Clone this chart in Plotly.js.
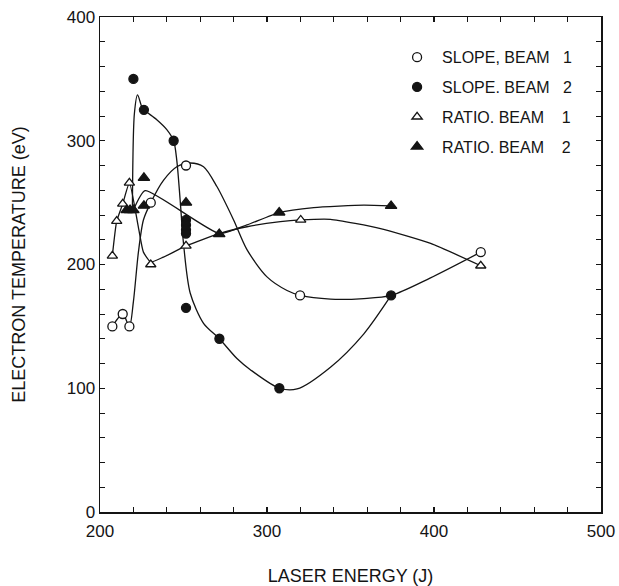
<!DOCTYPE html>
<html>
<head>
<meta charset="utf-8">
<script src="https://cdn.plot.ly/plotly-3.0.1.min.js"></script>
<style>
  html, body { margin: 0; padding: 0; background: #fff; }
  #chart { width: 619px; height: 586px; }
</style>
</head>
<body>
<div id="chart"></div>
<script>
// Measured points (laser energy J, electron temperature eV)
const slope1X = [207.4, 213.6, 217.6, 230.4, 251.5, 319.8, 428];
const slope1Y = [150, 160, 150, 250, 280, 175, 210];
const slope2X = [220, 226.3, 244.1, 251.5, 251.5, 251.5, 251.5, 251.5, 271.5, 307.4, 374.3];
const slope2Y = [350, 325, 300, 236, 232, 228, 225, 165, 140, 100, 175];
const ratio1X = [207.4, 210, 213.6, 217.6, 230.4, 251.5, 320.2, 428];
const ratio1Y = [207, 235, 249, 266, 200, 215, 236, 199];
const ratio2X = [216, 218, 220, 226.3, 226.3, 251.5, 271.4, 307.3, 374.3];
const ratio2Y = [244, 244, 244, 270, 247.5, 250, 224.6, 242, 247.3];

// Hand-drawn guide curves
const slope1CurveX = [207.4, 213.6, 217.6, 220, 223, 226, 230.4, 238, 246, 254, 262, 270, 280, 288, 300, 312, 320, 338, 358, 374.3, 397.6, 428];
const slope1CurveY = [150, 160, 150, 170, 210, 236, 250, 268, 279, 282, 279, 263, 236, 212, 190, 179, 175, 172, 172.5, 175, 189, 210];
const slope2CurveX = [219.4, 220.6, 222.5, 225, 226.3, 234, 240, 244.1, 246, 248, 250, 254, 262, 271.5, 282, 290, 307.4, 318, 338, 358, 374.3];
const slope2CurveY = [244, 322, 337, 327.5, 325, 317, 309, 300, 284, 252, 217, 177, 152.5, 140, 124, 115, 100, 99.4, 117, 144, 175];
const ratio1CurveX = [207.4, 210, 213.6, 217.6, 223, 226, 230.4, 238, 251.5, 271.4, 288, 308, 320.2, 338, 368, 398, 428];
const ratio1CurveY = [207, 235, 249, 266, 230, 210, 202, 206, 215, 225, 230.5, 234.6, 236, 236.5, 229, 217, 199];
const ratio2CurveX = [220, 227, 271.4, 288, 307.3, 328, 358, 374.3];
const ratio2CurveY = [244, 259.6, 225, 232, 242, 246, 248, 247.3];

const ink = '#141414';
const names = [
  'SLOPE, BEAM\u00a0\u00a0\u00a01',
  'SLOPE. BEAM\u00a0\u00a0\u00a02',
  'RATIO. BEAM\u00a0\u00a0\u00a0\u00a01',
  'RATIO. BEAM\u00a0\u00a0\u00a0\u00a02'
];

function curve(x, y, smooth) {
  return {x: x, y: y, type: 'scatter', mode: 'lines', showlegend: false, hoverinfo: 'skip',
    line: {color: ink, width: 1.3, shape: 'spline', smoothing: smooth}};
}
function pts(x, y, name, symbol, group, size, fill) {
  return {x: x, y: y, type: 'scatter', mode: 'markers', name: name, legendgroup: group,
    marker: {symbol: symbol, size: size, color: fill, line: {color: ink, width: 1.3}}};
}

const data = [
  curve(slope1CurveX, slope1CurveY, 0.8),
  curve(slope2CurveX, slope2CurveY, 0.8),
  curve(ratio1CurveX, ratio1CurveY, 0.5),
  curve(ratio2CurveX, ratio2CurveY, 0.5),
  pts(slope1X, slope1Y, names[0], 'circle', 'a', 9, '#ffffff'),
  pts(slope2X, slope2Y, names[1], 'circle', 'b', 9, ink),
  pts(ratio1X, ratio1Y, names[2], 'triangle-up', 'c', 9, '#ffffff'),
  pts(ratio2X, ratio2Y, names[3], 'triangle-up', 'd', 10, ink)
];

const axisCommon = {
  showgrid: false, zeroline: false, showline: true, linecolor: ink, linewidth: 1.5,
  mirror: 'ticks', ticks: 'inside', ticklen: 5, tickwidth: 1.2, tickcolor: ink,
  tickfont: {family: 'Liberation Sans, Arial, sans-serif', size: 17, color: ink},
  minor: {dtick: 20, ticks: 'inside', ticklen: 5, tickwidth: 1, tickcolor: ink}
};

const layout = {
  width: 619, height: 586,
  margin: {l: 100, r: 18, t: 17, b: 74},
  paper_bgcolor: '#fff', plot_bgcolor: '#fff',
  font: {family: 'Liberation Sans, Arial, sans-serif', color: ink},
  xaxis: Object.assign({}, axisCommon, {
    range: [200, 500], dtick: 100, tick0: 0, ticklabelstandoff: 3,
    title: {text: 'LASER ENERGY (J)', font: {size: 18, color: ink}, standoff: 34}
  }),
  yaxis: Object.assign({}, axisCommon, {
    range: [0, 400], dtick: 100, tick0: 0,
    title: {text: 'ELECTRON TEMPERATURE (eV)', font: {size: 18, color: ink}, standoff: 36}
  }),
  legend: {
    x: 0.583, y: 0.953, xanchor: 'left', yanchor: 'top',
    bgcolor: 'rgba(0,0,0,0)', borderwidth: 0,
    font: {size: 16, color: ink, family: 'Liberation Sans, Arial, sans-serif'},
    tracegroupgap: 6, itemwidth: 40
  },
  showlegend: true
};

Plotly.newPlot('chart', data, layout, {staticPlot: true, displayModeBar: false});
</script>
</body>
</html>
